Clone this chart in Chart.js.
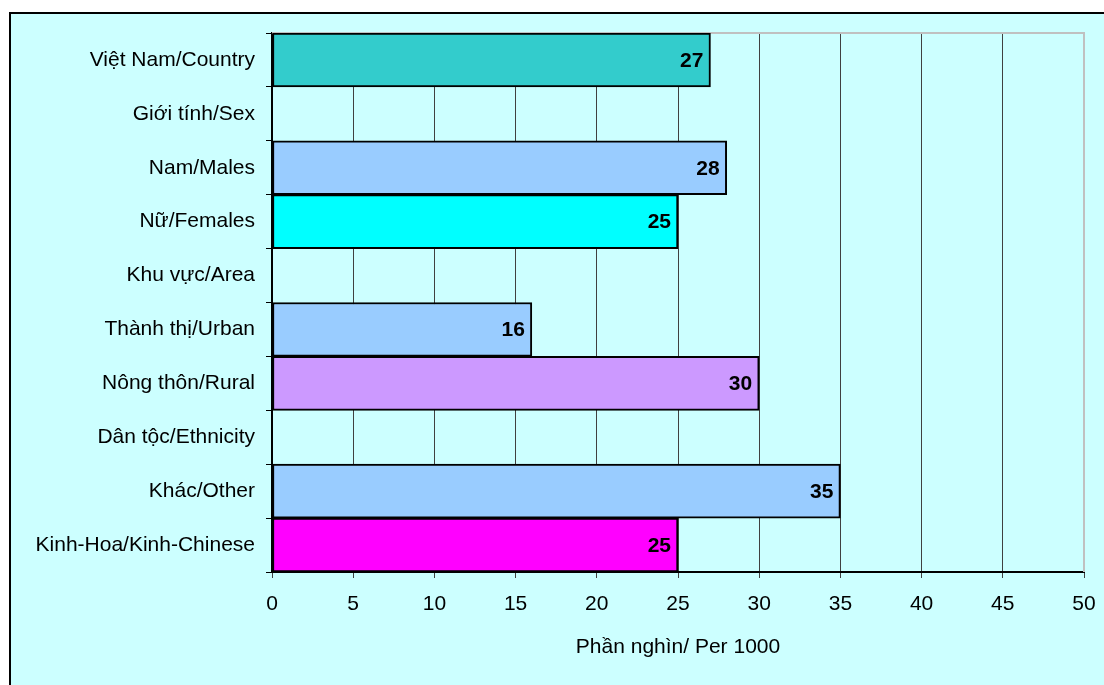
<!DOCTYPE html>
<html>
<head>
<meta charset="utf-8">
<script src="https://cdn.jsdelivr.net/npm/chart.js@4"></script>
<style>
  body { margin: 0; background: #fff; }
  #frame {
    position: absolute; left: 9px; top: 12px; width: 1110px; height: 690px;
    background: #ccffff; border-left: 2px solid #000; border-top: 2px solid #000;
  }
  #wrap { position: absolute; left: 0; top: 0; width: 1104px; height: 685px; }
</style>
</head>
<body>
<div id="frame"></div>
<div id="wrap"><canvas id="graph"></canvas></div>
<script>
var labels = ['Việt Nam/Country', 'Giới tính/Sex', 'Nam/Males', 'Nữ/Females', 'Khu vực/Area',
    'Thành thị/Urban', 'Nông thôn/Rural', 'Dân tộc/Ethnicity', 'Khác/Other', 'Kinh-Hoa/Kinh-Chinese'];
var values = [27, null, 28, 25, null, 16, 30, null, 35, 25];
var colors = ['#33cccc', null, '#99ccff', '#00ffff', null, '#99ccff', '#cc99ff', null, '#99ccff', '#ff00ff'];
var xTicks = [0, 5, 10, 15, 20, 25, 30, 35, 40, 45, 50];
var xTitle = 'Phần nghìn/ Per 1000';

var fontFam = '"Liberation Sans", Arial, sans-serif';

// gray frame on the top and right of the plot area
var plotFrame = {
    id: 'plotFrame',
    beforeDatasetsDraw: function(chart) {
        var a = chart.chartArea, ctx = chart.ctx;
        ctx.save();
        ctx.strokeStyle = '#c0c0c0';
        ctx.lineWidth = 2;
        ctx.beginPath();
        ctx.moveTo(a.left, a.top);
        ctx.lineTo(a.right, a.top);
        ctx.lineTo(a.right, a.bottom);
        ctx.stroke();
        ctx.restore();
    }
};

// numbers at the end of each bar
var barValues = {
    id: 'barValues',
    afterDatasetsDraw: function(chart) {
        var ctx = chart.ctx;
        var meta = chart.getDatasetMeta(0);
        ctx.save();
        ctx.font = 'bold 21px ' + fontFam;
        ctx.fillStyle = '#000';
        ctx.textAlign = 'right';
        ctx.textBaseline = 'middle';
        meta.data.forEach(function(bar, i) {
            if (values[i] == null) return;
            ctx.fillText(String(values[i]), bar.x - 7, bar.y + 1);
        });
        ctx.restore();
    }
};

var myChart = document.getElementById('graph').getContext('2d');
var barChart = new Chart(myChart, {
    type: 'bar',
    data: {
        labels: labels,
        datasets: [{
            data: values,
            backgroundColor: colors,
            borderColor: '#000',
            borderWidth: 2,
            borderSkipped: false,
            barPercentage: 1,
            categoryPercentage: 1
        }]
    },
    options: {
        indexAxis: 'y',
        responsive: true,
        maintainAspectRatio: false,
        animation: false,
        layout: { padding: { top: 33, right: 20, left: 0, bottom: 0 } },
        plugins: {
            legend: { display: false },
            tooltip: { enabled: false }
        },
        scales: {
            x: {
                min: 0,
                max: 50,
                afterBuildTicks: function(scale) {
                    scale.ticks = xTicks.map(function(v) { return { value: v }; });
                },
                afterFit: function(scale) {
                    scale.height = 113;
                    scale.paddingLeft = 0;
                    scale.paddingRight = 0;
                },
                grid: {
                    color: function(c) { return c.tick && c.tick.value === 50 ? '#c0c0c0' : '#404040'; },
                    tickColor: '#404040',
                    lineWidth: 1,
                    tickLength: 6
                },
                border: { color: '#000', width: 2 },
                ticks: {
                    color: '#000',
                    font: { family: fontFam, size: 21 },
                    padding: 14,
                    maxRotation: 0
                },
                title: {
                    display: true,
                    text: xTitle,
                    color: '#000',
                    font: { family: fontFam, size: 21 },
                    padding: { bottom: 25 }
                }
            },
            y: {
                afterFit: function(scale) { scale.width = 272; },
                grid: {
                    drawOnChartArea: false,
                    offset: true,
                    tickColor: '#000',
                    tickLength: 6
                },
                border: { color: '#000', width: 2 },
                ticks: {
                    color: '#000',
                    font: { family: fontFam, size: 21 },
                    padding: 11
                }
            }
        }
    },
    plugins: [plotFrame, barValues]
});
</script>
</body>
</html>
